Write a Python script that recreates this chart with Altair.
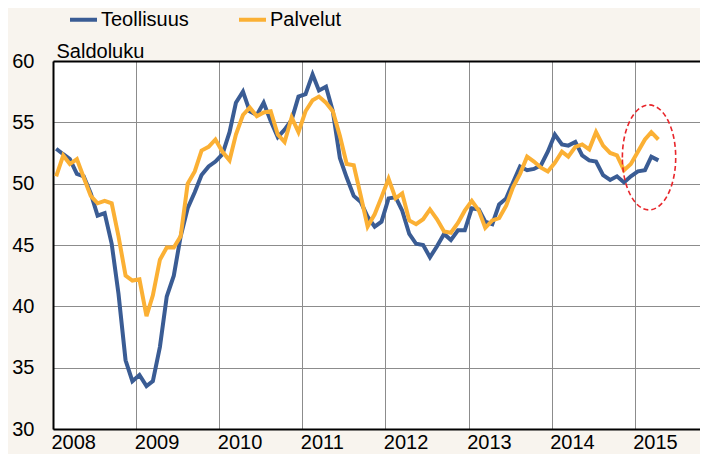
import altair as alt
import pandas as pd

# Monthly survey balance figures, Jan 2008 .. Apr 2015
series_names = ["Teollisuus", "Palvelut"]
series_colors = ["#3a5c94", "#fbb034"]

teollisuus = [
    52.85, 52.4, 52.0, 50.8, 50.6, 49.2, 47.4, 47.6, 45.1, 41.0, 35.6, 33.9,
    34.4, 33.5, 33.9, 36.7, 40.8, 42.5, 45.7, 48.0, 49.3, 50.7, 51.4, 51.8,
    52.4, 54.2, 56.6, 57.5, 55.9, 55.6, 56.6, 55.1, 53.8, 54.4, 55.2, 57.1,
    57.3, 58.9, 57.6, 57.9, 55.9, 52.1, 50.5, 49.0, 48.5, 47.3, 46.5, 46.9,
    48.8, 48.9, 47.8, 45.9, 45.1, 45.0, 44.0, 44.9, 45.9, 45.4, 46.2, 46.2,
    48.0, 47.9, 46.9, 46.7, 48.3, 48.8, 50.1, 51.4, 51.1, 51.2, 51.5, 52.6,
    54.0, 53.2, 53.1, 53.4, 52.3, 51.9, 51.8, 50.7, 50.3, 50.6, 50.1, 50.6,
    51.0, 51.1, 52.2, 51.9,
]
palvelut = [
    50.6, 52.3, 51.6, 52.0, 50.5, 49.0, 48.4, 48.6, 48.4, 45.7, 42.5, 42.1,
    42.2, 39.2, 40.9, 43.8, 44.8, 44.8, 45.7, 50.0, 51.0, 52.7, 53.0, 53.6,
    52.6, 51.9, 54.0, 55.6, 56.2, 55.5, 55.8, 55.9, 54.0, 53.4, 55.4, 54.2,
    55.9, 56.8, 57.1, 56.6, 55.9, 53.9, 51.6, 51.5, 49.0, 46.5, 47.5, 48.9,
    50.4, 48.8, 49.2, 47.0, 46.7, 47.1, 47.9, 47.1, 46.1, 46.0, 46.8, 47.8,
    48.6, 47.8, 46.4, 47.0, 47.2, 48.2, 49.7, 50.8, 52.2, 51.8, 51.3, 51.0,
    51.7, 52.6, 52.2, 53.0, 53.2, 52.8, 54.2, 53.1, 52.5, 52.3, 51.1, 51.6,
    52.6, 53.6, 54.2, 53.6,
]
year_ticks = list(range(2008, 2016))
y_ticks = [30, 35, 40, 45, 50, 55, 60]

# highlighted recent period (dashed ellipse annotation)
ellipse_date = ["2015-03-05T00:00:00"]
ellipse_value = [52.14]

months = pd.date_range("2008-01-01", periods=len(teollisuus), freq="MS") + pd.Timedelta(days=14)
df = pd.concat([
    pd.DataFrame({"date": months, "value": teollisuus, "series": series_names[0]}),
    pd.DataFrame({"date": months, "value": palvelut, "series": series_names[1]}),
], ignore_index=True)
df["date"] = df["date"].dt.strftime("%Y-%m-%dT%H:%M:%S")
ell_df = pd.DataFrame({"date": ellipse_date, "value": ellipse_value})

xscale = alt.Scale(domain=[alt.DateTime(year=2008, month=1, date=1),
                           alt.DateTime(year=2015, month=10, date=15)])
yscale = alt.Scale(domain=[30, 60], nice=False)

grid_color = "#8c8c8c"

y_axis = alt.Axis(
    values=y_ticks, labelFontSize=20, labelColor="black", labelPadding=19,
    ticks=False, tickSize=0, domainColor="black", domainWidth=2,
    gridColor=grid_color, gridWidth=1, title="Saldoluku", titleAngle=0,
    titleAlign="left", titleBaseline="alphabetic", titleX=3, titleY=-4,
    titleFontSize=20, titleFontWeight="normal", titleColor="black")

lines = alt.Chart(df).mark_line(strokeWidth=4).encode(
    x=alt.X("date:T", scale=xscale, axis=alt.Axis(
        values=[alt.DateTime(year=y, month=1, date=1) for y in year_ticks],
        format="%Y", labelAlign="left", labelOffset=-2, labelFlush=False,
        labelOverlap=False, labelBound=False, labelFontSize=20, labelColor="black",
        labelBaseline="alphabetic", labelPadding=19, ticks=False, tickSize=0,
        domainColor="black", domainWidth=2, gridColor=grid_color, gridWidth=1,
        title=None)),
    y=alt.Y("value:Q", scale=yscale, axis=y_axis),
    color=alt.Color("series:N", scale=alt.Scale(domain=series_names, range=series_colors),
                    legend=alt.Legend(title=None, orient="none", legendX=15, legendY=-57,
                                      direction="horizontal", columns=2, columnPadding=42,
                                      symbolType="stroke", symbolSize=729, symbolStrokeWidth=4,
                                      labelFontSize=20, labelColor="black", labelOffset=2,
                                      padding=0)),
)

ellipse_path = "M -0.508 0 A 0.508 1 0 1 1 0.508 0 A 0.508 1 0 1 1 -0.508 0 Z"
ellipse = alt.Chart(ell_df).mark_point(
    shape=ellipse_path, size=11025, filled=False, stroke="#e8262b",
    strokeWidth=1.6, strokeDash=[5, 3], opacity=1,
).encode(
    x=alt.X("date:T", scale=xscale, axis=alt.Axis(
        orient="top", labels=False, ticks=False, grid=False, domainColor="black",
        domainWidth=2, title=None)),
    y=alt.Y("value:Q", scale=yscale, axis=y_axis),
)

chart = alt.layer(lines, ellipse).resolve_axis(x="independent").properties(
    width=647, height=368,
    padding={"left": 45, "top": 53, "right": 0, "bottom": 25},
    autosize=alt.AutoSizeParams(type="none"),
).configure(
    background="#f8f4ee", font="Liberation Sans",
).configure_view(fill="white", stroke="transparent")

chart.save("out.html", embed_options={"renderer": "svg", "actions": False})
